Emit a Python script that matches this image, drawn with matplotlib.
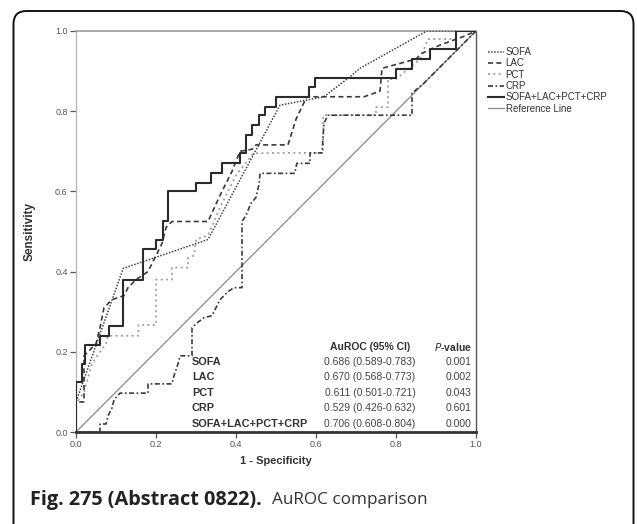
import matplotlib.pyplot as plt
from matplotlib.patches import FancyBboxPatch

# ROC curves: (1 - specificity, sensitivity)
sofa_fpr = [0, 0, 0.118, 0.33, 0.51, 0.62, 0.685, 0.71, 0.877, 1.0]
sofa_tpr = [0, 0.075, 0.408, 0.48, 0.815, 0.836, 0.886, 0.907, 1.0, 1.0]

lac_fpr = [0, 0, 0.02, 0.02, 0.05, 0.06, 0.07, 0.09, 0.12, 0.13, 0.15, 0.18, 0.2, 0.215,
           0.225, 0.24, 0.33, 0.36, 0.39, 0.41, 0.44, 0.45, 0.53, 0.55, 0.577, 0.72, 0.76,
           0.765, 0.85, 0.864, 0.91, 0.968, 1.0]
lac_tpr = [0, 0.075, 0.075, 0.19, 0.22, 0.26, 0.31, 0.33, 0.34, 0.36, 0.38, 0.40, 0.44, 0.47,
           0.51, 0.525, 0.525, 0.59, 0.65, 0.70, 0.705, 0.716, 0.716, 0.78, 0.836, 0.836, 0.85,
           0.907, 0.93, 0.944, 0.965, 0.986, 1.0]

pct_fpr = [0, 0, 0.02, 0.04, 0.06, 0.075, 0.08, 0.156, 0.156, 0.2, 0.2, 0.24, 0.24, 0.28,
           0.28, 0.295, 0.30, 0.33, 0.36, 0.40, 0.443, 0.52, 0.585, 0.618, 0.618, 0.75, 0.75,
           0.78, 0.78, 0.80, 0.86, 0.88, 0.95, 0.95, 1.0]
pct_tpr = [0, 0.07, 0.10, 0.17, 0.20, 0.22, 0.24, 0.24, 0.267, 0.267, 0.38, 0.38, 0.41, 0.41,
           0.434, 0.44, 0.48, 0.49, 0.56, 0.64, 0.695, 0.696, 0.696, 0.696, 0.79, 0.79, 0.81,
           0.81, 0.88, 0.88, 0.93, 0.98, 0.98, 1.0, 1.0]

crp_fpr = [0, 0.06, 0.06, 0.075, 0.08, 0.09, 0.095, 0.11, 0.18, 0.18, 0.24, 0.245, 0.255, 0.26,
           0.29, 0.29, 0.30, 0.32, 0.34, 0.35, 0.36, 0.38, 0.395, 0.415, 0.415, 0.425, 0.437,
           0.45, 0.458, 0.46, 0.547, 0.552, 0.585, 0.585, 0.615, 0.62, 0.63, 0.84, 0.84, 0.87,
           0.92, 0.96, 1.0]
crp_tpr = [0, 0, 0.02, 0.02, 0.04, 0.06, 0.08, 0.097, 0.097, 0.12, 0.12, 0.14, 0.17, 0.19,
           0.19, 0.26, 0.27, 0.285, 0.29, 0.31, 0.33, 0.35, 0.36, 0.36, 0.525, 0.54, 0.57,
           0.585, 0.62, 0.645, 0.645, 0.67, 0.67, 0.696, 0.696, 0.77, 0.79, 0.79, 0.845, 0.87,
           0.92, 0.96, 1.0]

comb_fpr = [0, 0, 0.015, 0.015, 0.022, 0.022, 0.06, 0.06, 0.083, 0.083, 0.118, 0.118, 0.168,
            0.168, 0.20, 0.20, 0.217, 0.217, 0.23, 0.23, 0.30, 0.30, 0.337, 0.337, 0.364, 0.364,
            0.41, 0.41, 0.425, 0.425, 0.44, 0.44, 0.457, 0.457, 0.472, 0.472, 0.50, 0.50, 0.583,
            0.583, 0.598, 0.598, 0.80, 0.80, 0.84, 0.84, 0.885, 0.885, 0.95, 0.95, 1.0]
comb_tpr = [0, 0.125, 0.125, 0.17, 0.17, 0.217, 0.217, 0.24, 0.24, 0.265, 0.265, 0.38, 0.38,
            0.456, 0.456, 0.48, 0.48, 0.526, 0.526, 0.60, 0.60, 0.62, 0.62, 0.646, 0.646, 0.67,
            0.67, 0.696, 0.696, 0.74, 0.74, 0.766, 0.766, 0.79, 0.79, 0.81, 0.81, 0.836, 0.836,
            0.86, 0.86, 0.884, 0.884, 0.905, 0.905, 0.93, 0.93, 0.955, 0.955, 1.0, 1.0]

markers = ["SOFA", "LAC", "PCT", "CRP", "SOFA+LAC+PCT+CRP"]
auroc = ["0.686 (0.589-0.783)", "0.670 (0.568-0.773)", "0.611 (0.501-0.721)",
         "0.529 (0.426-0.632)", "0.706 (0.608-0.804)"]
pvals = ["0.001", "0.002", "0.043", "0.601", "0.000"]
ticks = [0.0, 0.2, 0.4, 0.6, 0.8, 1.0]

plt.rcParams['font.family'] = ['Liberation Sans', 'DejaVu Sans']

fig = plt.figure(figsize=(6.37, 5.24), dpi=100)
ax = fig.add_axes([76 / 637, 1 - 432 / 524, 400 / 637, 401 / 524])

# curves
ax.plot([0, 1], [0, 1], color='#8a8a8a', lw=0.9, label='Reference Line', zorder=1)
ax.plot(sofa_fpr, sofa_tpr, color='#444444', lw=1.1, ls=(0, (1, 1)), label='SOFA', zorder=3)
ax.plot(lac_fpr, lac_tpr, color='#3a3a3a', lw=1.2, ls=(0, (3, 2)), label='LAC', zorder=3)
ax.plot(pct_fpr, pct_tpr, color='#9a9a9a', lw=1.2, ls=(0, (1.2, 2)), label='PCT', zorder=2)
ax.plot(crp_fpr, crp_tpr, color='#3a3a3a', lw=1.2, ls=(0, (3, 1.5, 1, 1.5)), label='CRP', zorder=3)
ax.plot(comb_fpr, comb_tpr, color='#2b2b2b', lw=1.5, label='SOFA+LAC+PCT+CRP', zorder=4)

ax.set_xlim(0, 1)
ax.set_ylim(0, 1)
ax.set_xticks(ticks)
ax.set_yticks(ticks)
ax.set_xticklabels(['%.1f' % t for t in ticks])
ax.set_yticklabels(['%.1f' % t for t in ticks])
ax.tick_params(axis='both', direction='out', length=4, width=0.9, colors='#555555',
               labelsize=6.5, pad=2)
ax.spines['top'].set_color('#999999')
ax.spines['top'].set_linewidth(1.2)
ax.spines['left'].set_color('#bbbbbb')
ax.spines['left'].set_linewidth(1.0)
ax.spines['right'].set_color('#555555')
ax.spines['right'].set_linewidth(1.0)
ax.spines['bottom'].set_color('#333333')
ax.spines['bottom'].set_linewidth(2.0)

ax.set_xlabel('1 - Specificity', fontsize=8, fontweight='bold', color='#333333', labelpad=5)
ax.set_ylabel('Sensitivity', fontsize=8.5, fontweight='bold', color='#333333', labelpad=14)

# AuROC table inside the plot
row_y = [0.174, 0.136, 0.097, 0.059, 0.021]
ax.text(0.735, 0.212, 'AuROC (95% CI)', fontsize=7.5, fontweight='bold', color='#333333',
        ha='center', va='center')
ax.text(0.99, 0.212, '$\\bf{\\it{P}}$-value', fontsize=7.5, fontweight='bold', color='#333333',
        ha='right', va='center')
for name, auc, p, y in zip(markers, auroc, pvals, row_y):
    ax.text(0.29, y, name, fontsize=7.8, fontweight='bold', color='#333333', ha='left', va='center')
    ax.text(0.735, y, auc, fontsize=7.5, color='#444444', ha='center', va='center')
    ax.text(0.99, y, p, fontsize=7.5, color='#444444', ha='right', va='center')

# legend outside on the right
handles, labels = ax.get_legend_handles_labels()
order = [1, 2, 3, 4, 5, 0]
leg = fig.legend([handles[i] for i in order], [labels[i] for i in order],
                 loc='upper left', bbox_to_anchor=(488 / 637, 1 - 47 / 524),
                 frameon=False, fontsize=7, handlelength=1.6, handletextpad=0.2,
                 labelspacing=0.14, borderaxespad=0, borderpad=0)
for t in leg.get_texts():
    t.set_color('#333333')

# caption: bold part, then regular part placed right after it
cap_bold = fig.text(30 / 637, 1 - 500 / 524, 'Fig. 275 (Abstract 0822).', fontsize=14.3,
                    fontweight='bold', family='Open Sans', color='#222222', va='center', ha='left')
fig.canvas.draw()
bb = cap_bold.get_window_extent()
fig.text(bb.x1 / fig.bbox.width + 10 / 637, 1 - 500 / 524, 'AuROC comparison', fontsize=12.3,
         family='Open Sans', color='#333333', va='center', ha='left')

# rounded outer frame
frame = FancyBboxPatch((0.135, -0.3), 6.2, 5.43, boxstyle='round,pad=0,rounding_size=0.13',
                       transform=fig.dpi_scale_trans, fill=False, edgecolor='#111111', lw=1.4)
fig.patches.append(frame)

fig.savefig('out.png', dpi=100)
